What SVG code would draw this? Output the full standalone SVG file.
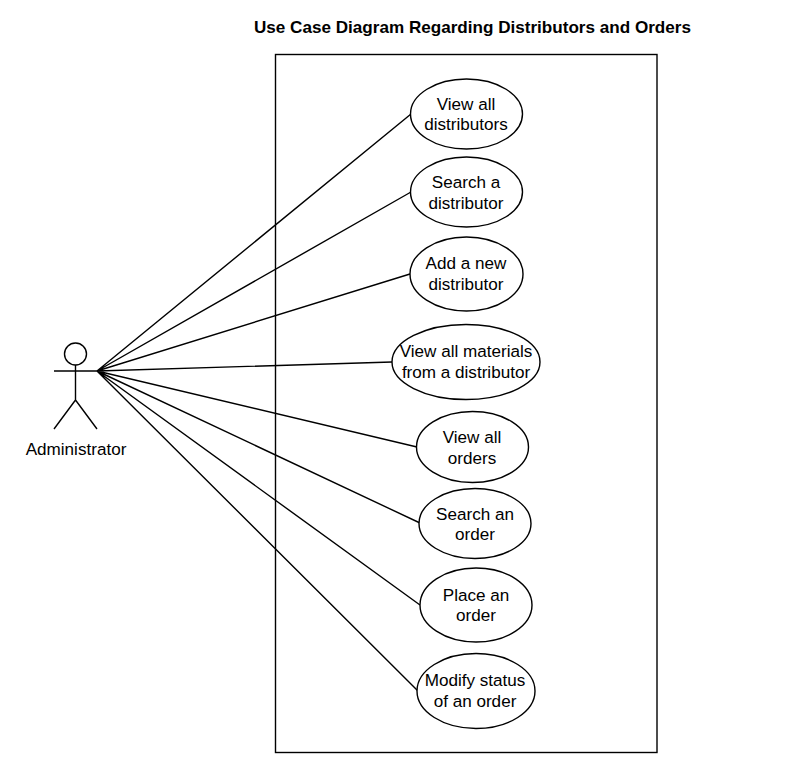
<svg xmlns="http://www.w3.org/2000/svg" width="785" height="759" viewBox="0 0 785 759">
<style>
text{font-family:"Liberation Sans",Arial,sans-serif;font-size:17.100px;fill:#000;text-anchor:middle}
.s{fill:#fff;stroke:#000;stroke-width:1.4}
.l{fill:none;stroke:#000;stroke-width:1.4}
.t{font-weight:bold}
</style>
<rect width="785" height="759" fill="#fff"/>
<text class="t" x="472.500" y="33">Use Case Diagram Regarding Distributors and Orders</text>
<rect id="boundary" class="s" x="275.500" y="54.500" width="381.500" height="698"/>
<g id="connectors">
<path class="l" d="M97 371L411 114M97 371L411 192M97 371L410 274M97 371L392 362M97 371L417 447M97 371L420 523M97 371L420 605M97 371L418 691"/>
</g>
<g id="actor">
<circle class="s" cx="75.500" cy="354" r="11"/>
<path class="l" d="M75.500 365V400M54 371H97M75.500 400L54 429M75.500 400L97 429"/>
<text x="76" y="455">Administrator</text>
</g>
<g id="uc1"><ellipse class="s" cx="466.500" cy="114" rx="56" ry="35"/><text x="466" y="110">View all</text><text x="466" y="130">distributors</text></g>
<g id="uc2"><ellipse class="s" cx="466.500" cy="192" rx="56" ry="35"/><text x="466" y="188">Search a</text><text x="466" y="209">distributor</text></g>
<g id="uc3"><ellipse class="s" cx="466.500" cy="274" rx="56.500" ry="37"/><text x="466" y="269">Add a new</text><text x="466" y="290">distributor</text></g>
<g id="uc4"><ellipse class="s" cx="466" cy="362" rx="74" ry="37.500"/><text x="466" y="357">View all materials</text><text x="466" y="378">from a distributor</text></g>
<g id="uc5"><ellipse class="s" cx="472.500" cy="447" rx="56" ry="35.500"/><text x="472" y="443">View all</text><text x="472" y="464">orders</text></g>
<g id="uc6"><ellipse class="s" cx="475" cy="523.500" rx="56" ry="35"/><text x="475" y="520">Search an</text><text x="475" y="540">order</text></g>
<g id="uc7"><ellipse class="s" cx="476" cy="605" rx="56" ry="37"/><text x="476" y="601">Place an</text><text x="476" y="621">order</text></g>
<g id="uc8"><ellipse class="s" cx="476" cy="691" rx="59" ry="37.500"/><text x="475" y="686">Modify status</text><text x="475" y="707">of an order</text></g>
</svg>
